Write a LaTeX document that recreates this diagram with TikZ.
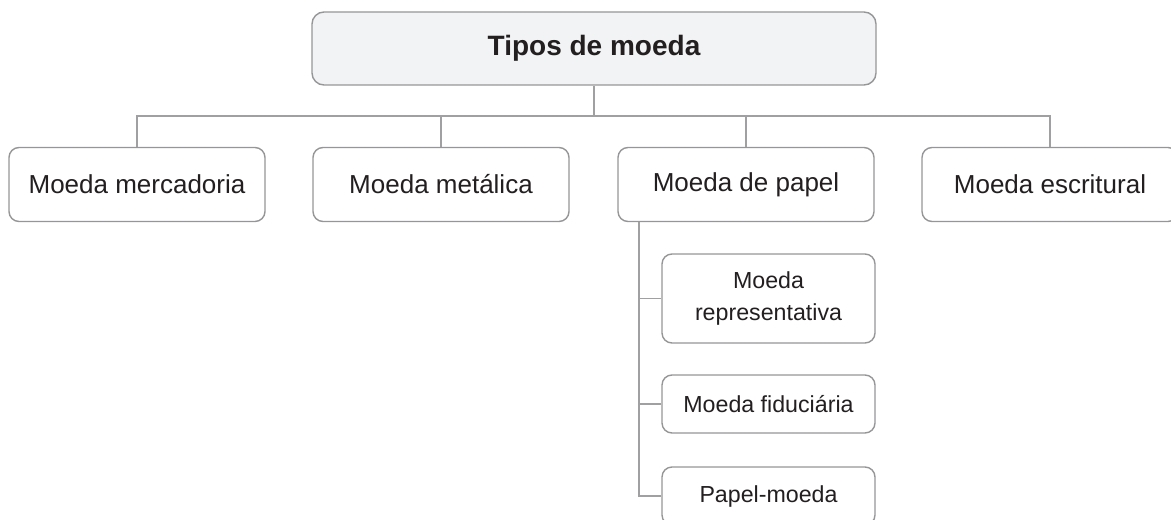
\documentclass[tikz,border=0pt]{standalone}
\usepackage{fontspec}
\setmainfont{Liberation Sans}
\usetikzlibrary{positioning,calc}
\definecolor{frame}{RGB}{150,150,152}
\definecolor{wire}{RGB}{160,160,162}
\definecolor{mist}{RGB}{242,243,245}
\definecolor{ink}{RGB}{35,31,32}
\tikzset{
  kind/.style={draw=frame,line width=0.7pt,fill=white,rounded corners=5pt,
    minimum width=128pt,minimum height=37pt,align=center,text=ink,
    font=\fontsize{13}{15}\selectfont},
  head/.style={kind,fill=mist,rounded corners=6pt,minimum width=282pt,
    minimum height=36.5pt,font=\fontsize{14}{16}\selectfont\bfseries},
  sub/.style={kind,minimum width=106.5pt,minimum height=#1,
    font=\fontsize{11.6}{16}\selectfont},
  sub/.default=29pt,
  link/.style={draw=wire,line width=0.75pt},
}
\begin{document}
\begin{tikzpicture}[x=0.5pt,y=-0.5pt]
  \useasboundingbox (0,0) rectangle (1171,519);
  \node[head] (tipos) at (594,48.5) {Tipos de moeda};
  \coordinate (bus) at (594,116);
  \draw[link] (tipos.south) -- (bus);
  % the four kinds
  \foreach \t/\x [count=\i] in {Moeda mercadoria/137,Moeda metálica/441,
      Moeda de papel/746,Moeda escritural/1050}
  {
    \node[kind] (k\i) at (\x,184.5) {\t};
    \draw[link] (k\i.north) |- (bus);
  }
  % paper money branch
  \coordinate (spine) at (639,221.5);
  \node[sub=44.5pt] (s1) at (768.5,298.5) {Moeda\\representativa};
  \node[sub] (s2) at (768.5,404) {Moeda fiduciária};
  \node[sub] (s3) at (768.5,496) {Papel-moeda};
  \foreach \i in {1,2,3}
    \draw[link] (spine) |- (s\i.west);
\end{tikzpicture}
\end{document}
